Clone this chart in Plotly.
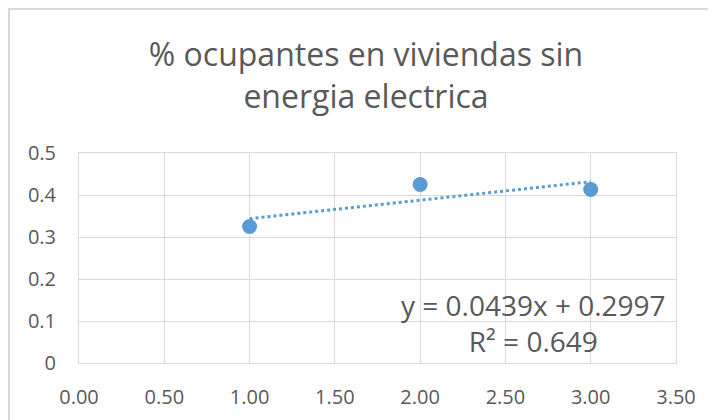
import numpy as np
import plotly.graph_objects as go

x_vals = [1, 2, 3]
y_vals = [0.325, 0.425, 0.413]
x_ticks = [0, 0.5, 1.0, 1.5, 2.0, 2.5, 3.0, 3.5]
y_ticks = [0, 0.1, 0.2, 0.3, 0.4, 0.5]
title_text = "% ocupantes en viviendas sin<br>energia electrica"
eq_text = "y = 0.0439x + 0.2997<br>R² = 0.649"

slope, intercept = np.polyfit(x_vals, y_vals, 1)
trend_x = [min(x_vals), max(x_vals)]
trend_y = [slope * v + intercept for v in trend_x]

blue = "#5b9bd5"
grid = "#d9d9d9"
txt = "#595959"
font = "Open Sans"

W, H = 716, 420
L, T, R, B = 71, 145, 48, 65

fig = go.Figure()
fig.add_trace(go.Scatter(x=trend_x, y=trend_y, mode="lines",
                         line=dict(color=blue, width=3, dash="dot"),
                         hoverinfo="skip", showlegend=False))
fig.add_trace(go.Scatter(x=x_vals, y=y_vals, mode="markers",
                         marker=dict(color=blue, size=15),
                         showlegend=False))

fig.update_layout(
    width=W, height=H,
    margin=dict(l=L, r=R, t=T, b=B, autoexpand=False),
    paper_bgcolor="white", plot_bgcolor="white",
    font=dict(family=font, color=txt),
    title=dict(text=title_text, x=0.5, xref="container", xanchor="center",
               y=1 - 58 / H, yanchor="middle", yref="container",
               font=dict(family=font, size=32, color=txt)),
    showlegend=False,
)
fig.update_xaxes(range=[0, 3.5], tickvals=x_ticks,
                 ticktext=[f"{v:.2f}" for v in x_ticks],
                 showgrid=True, gridcolor=grid, gridwidth=1,
                 zeroline=False, showline=True, linecolor=grid, mirror=True,
                 ticks="outside", ticklen=16, tickcolor="rgba(0,0,0,0)",
                 tickfont=dict(family=font, size=20, color=txt))
fig.update_yaxes(range=[0, 0.5], tickvals=y_ticks,
                 ticktext=[f"{v:g}" for v in y_ticks],
                 showgrid=True, gridcolor=grid, gridwidth=1,
                 zeroline=False, showline=True, linecolor=grid, mirror=True,
                 ticks="outside", ticklen=18, tickcolor="rgba(0,0,0,0)",
                 tickfont=dict(family=font, size=20, color=txt))

fig.add_annotation(text=eq_text, x=2.667, y=0.095, xref="x", yref="y",
                   showarrow=False, align="center", xanchor="center",
                   yanchor="middle",
                   font=dict(family=font, size=28, color=txt))

# chart outer border (along the page's top-left edge)
pw = W - L - R
ph = H - T - B
fig.add_shape(type="rect", xref="paper", yref="paper",
              x0=(1 - L) / pw, x1=(W + 20 - L) / pw,
              y0=-(B + 20) / ph, y1=1 + (T - 1) / ph,
              line=dict(color=grid, width=2), fillcolor="rgba(0,0,0,0)",
              layer="below")

fig.write_html("out.html")
